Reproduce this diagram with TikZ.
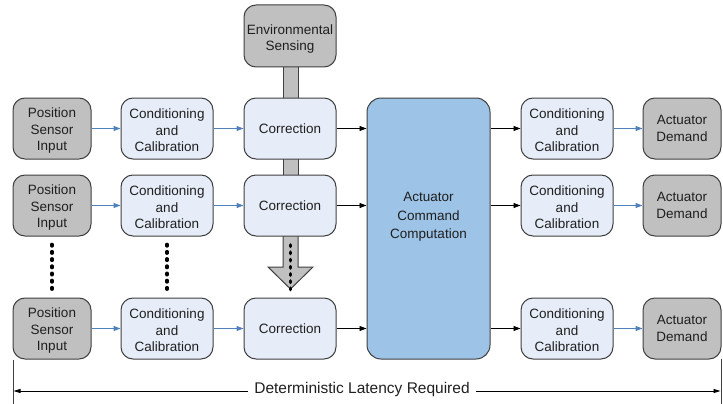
\documentclass[tikz,border=0pt]{standalone}
\usepackage{fontspec}
\setmainfont{Liberation Sans}
\usetikzlibrary{arrows.meta}
\definecolor{bordc}{HTML}{3F3F3F}
\definecolor{grayf}{HTML}{C0C0C0}
\definecolor{lightb}{HTML}{E6EDF8}
\definecolor{bigb}{HTML}{9DC3E6}
\definecolor{arrb}{HTML}{4F81BD}
\newcommand{\lowrule}[1]{\rule{0pt}{#1}}
\begin{document}
\begin{tikzpicture}[x=1pt,y=-1pt,
  box/.style={draw=bordc, line width=1pt, rounded corners=12pt, align=center,
    inner sep=0pt, font=\fontsize{13.5}{16.6}\selectfont, text=black!88},
  graybox/.style={box, fill=grayf, minimum width=78pt, minimum height=61pt},
  lbox/.style={box, fill=lightb, minimum width=92pt, minimum height=61pt},
  barc/.style={draw=bordc, line width=1pt, fill=grayf},
  blarr/.style={draw=arrb, line width=1pt, -{Triangle[length=7pt,width=5pt]}},
  bkarr/.style={draw=black, line width=0.9pt, -{Triangle[length=7pt,width=5pt]}},
  dotsl/.style={line width=3.6pt, dash pattern=on 1.4pt off 5.8pt, line cap=round},
  latarr/.style={draw=black, line width=0.9pt, -{Triangle[length=7pt,width=4pt]}}
]
\useasboundingbox (0,0) rectangle (723,404);
% gray connecting bars
\draw[barc] (283,66) rectangle (298,99);
\draw[barc] (283,158) rectangle (298,176);
\draw[barc] (283,235) -- (283,267) -- (268,267) -- (290.5,289) -- (313,267) -- (298,267) -- (298,235) -- cycle;
% left side
\node[graybox] (psi1) at (52,128.5) {\lowrule{13.8pt}Position\\Sensor\\Input};
\node[graybox] (psi2) at (52,205.5) {\lowrule{13.8pt}Position\\Sensor\\Input};
\node[graybox] (psi3) at (52,328.5) {\lowrule{13.8pt}Position\\Sensor\\Input};
\node[lbox] (cc1) at (167,128.5) {\lowrule{13.8pt}Conditioning\\and\\Calibration};
\node[lbox] (cc2) at (167,205.5) {\lowrule{13.8pt}Conditioning\\and\\Calibration};
\node[lbox] (cc3) at (167,328.5) {\lowrule{13.8pt}Conditioning\\and\\Calibration};
\node[lbox] (cor1) at (290,128.5) {Correction};
\node[lbox] (cor2) at (290,205.5) {Correction};
\node[lbox] (cor3) at (290,328.5) {Correction};
\node[box, fill=grayf, minimum width=92pt, minimum height=62pt] (env) at (290,36) {\lowrule{15.8pt}Environmental\\Sensing};
% big box
\node[box, fill=bigb, minimum width=123pt, minimum height=261pt, rounded corners=14pt] (acc) at (428.5,228.5) {};
\node[align=center, font=\fontsize{13.5}{18.5}\selectfont, text=black!88, inner sep=0pt] (acct) at (428.5,217) {Actuator\\Command\\Computation};
% right side
\node[lbox] (rc1) at (567,128.5) {\lowrule{13.8pt}Conditioning\\and\\Calibration};
\node[lbox] (rc2) at (567,205.5) {\lowrule{13.8pt}Conditioning\\and\\Calibration};
\node[lbox] (rc3) at (567,328.5) {\lowrule{13.8pt}Conditioning\\and\\Calibration};
\node[graybox] (ad1) at (682,128.5) {Actuator\\Demand};
\node[graybox] (ad2) at (682,205.5) {Actuator\\Demand};
\node[graybox] (ad3) at (682,328.5) {Actuator\\Demand};
% arrows
\foreach \i in {1,2,3}{
  \draw[blarr] (psi\i.east) -- (cc\i.west);
  \draw[blarr] (cc\i.east) -- (cor\i.west);
  \draw[bkarr] (cor\i.east) -- (cor\i.east -| acc.west);
  \draw[bkarr] (rc\i.west -| acc.east) -- (rc\i.west);
  \draw[blarr] (rc\i.east) -- (ad\i.west);
}
% dots
\coordinate (d1a) at (52,244.5);
\coordinate (d1b) at (52,292);
\coordinate (d2a) at (167,244.5);
\coordinate (d2b) at (167,292);
\coordinate (d3a) at (290.5,245);
\coordinate (d3b) at (290.5,292);
\draw[dotsl] (d1a) -- (d1b);
\draw[dotsl] (d2a) -- (d2b);
\draw[dotsl] (d3a) -- (d3b);
% latency
\coordinate (vl1) at (13,360);
\coordinate (vl2) at (13,404);
\coordinate (vr1) at (721,359);
\coordinate (vr2) at (721,404);
\draw[bordc, line width=1pt] (vl1) -- (vl2);
\draw[bordc, line width=1pt] (vr1) -- (vr2);
\node[font=\fontsize{15.5}{18}\selectfont, text=black!88, inner sep=6pt] (lat) at (362,389.5) {Deterministic Latency Required};
\coordinate (la) at (13.5,391);
\coordinate (ra) at (720.5,391);
\draw[latarr] (lat.west |- la) -- (la);
\draw[latarr] (lat.east |- ra) -- (ra);
\end{tikzpicture}
\end{document}
